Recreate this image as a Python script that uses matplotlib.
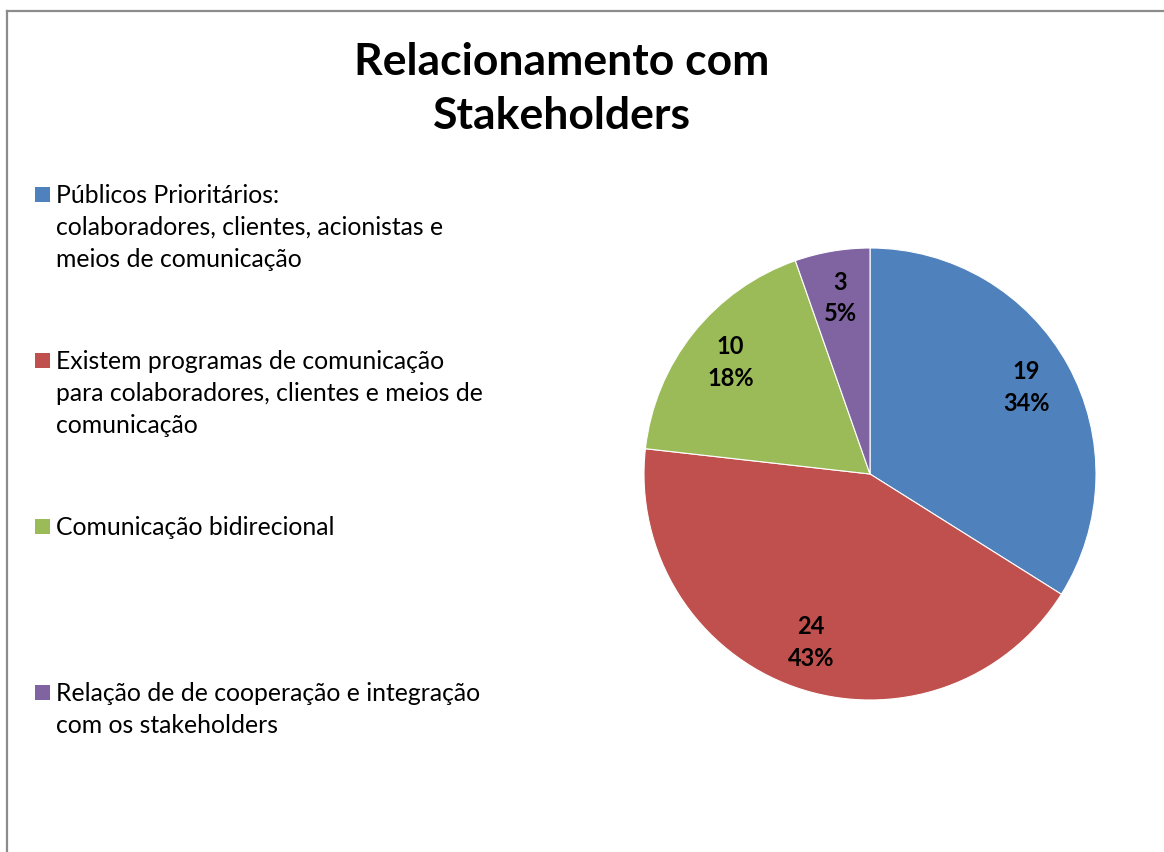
import matplotlib.pyplot as plt
from matplotlib.patches import Rectangle
from matplotlib.lines import Line2D

plt.rcParams['font.family'] = ['Lato', 'DejaVu Sans']

title = "Relacionamento com\nStakeholders"
labels = [
    "Públicos Prioritários:\ncolaboradores, clientes, acionistas e\nmeios de comunicação",
    "Existem programas de comunicação\npara colaboradores, clientes e meios de\ncomunicação",
    "Comunicação bidirecional",
    "Relação de de cooperação e integração\ncom os stakeholders",
]
values = [19, 24, 10, 3]
colors = ['#4F81BD', '#C0504D', '#9BBB59', '#8064A2']

W, H = 1164, 852
fig = plt.figure(figsize=(W / 100, H / 100), dpi=100)

# chart frame (only left and top edges visible)
fig.add_artist(Line2D([7 / W, 7 / W], [0, 1 - 10.5 / H], color='#8c8c8c', lw=1.6))
fig.add_artist(Line2D([7 / W, 1], [1 - 10.5 / H, 1 - 10.5 / H], color='#8c8c8c', lw=1.6))

fig.text(562 / W, 1 - 89 / H, title, ha='center', va='center',
         fontsize=32, fontweight='bold', linespacing=1.42)

# pie
cx, cy, r = 870, 474, 226
ax = fig.add_axes([(cx - r) / W, 1 - (cy + r) / H, 2 * r / W, 2 * r / H])
total = sum(values)


def fmt(p):
    return f"{round(p * total / 100)}\n{p:.0f}%"


wedges, texts, autotexts = ax.pie(
    values, colors=colors, startangle=90, counterclock=False,
    autopct=fmt, pctdistance=0.79,
    wedgeprops=dict(edgecolor='white', linewidth=0.8),
    textprops=dict(fontsize=17, fontweight='bold', color='black', linespacing=1.45))
ax.set_xlim(-1, 1)
ax.set_ylim(-1, 1)
ax.axis('off')

# legend
y0 = 196
step = 166
for i, (lab, c) in enumerate(zip(labels, colors)):
    y = y0 + i * step
    fig.add_artist(Rectangle((35 / W, 1 - (y + 6) / H), 15 / W, 15 / H,
                             facecolor=c, edgecolor='none'))
    fig.text(56 / W, 1 - (y - 12) / H, lab, ha='left', va='top',
             fontsize=17.8, linespacing=1.47)

fig.savefig('out.png', dpi=100)
